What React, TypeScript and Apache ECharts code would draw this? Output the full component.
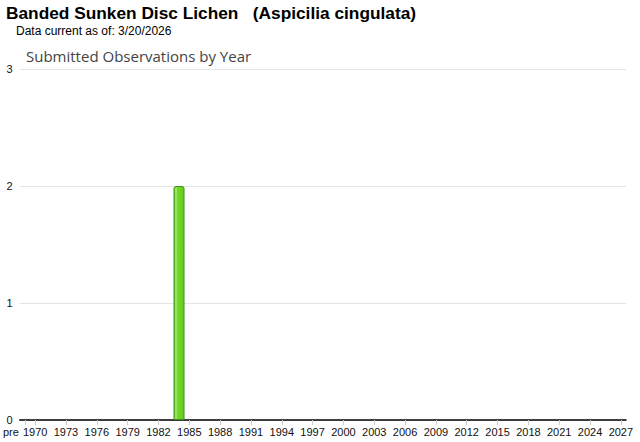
import React, { useEffect, useRef } from "react";
import * as echarts from "echarts";

const firstYear = 1970;
const lastYear = 2027;
const years: string[] = [];
for (let y = firstYear; y <= lastYear; y++) years.push(String(y));
const categories: string[] = ["pre", ...years];
const observedYears: string[] = ["1984"];
const observedCounts: number[] = [2];
const yTicks: number[] = [0, 1, 2, 3];

export default function App() {
  const ref = useRef<HTMLDivElement>(null);
  useEffect(() => {
    document.body.style.margin = "0";
    const chart = echarts.init(ref.current!, null, { renderer: "svg" });
    const values = categories.map((c) => {
      const i = observedYears.indexOf(c);
      return i >= 0 ? observedCounts[i] : "-";
    });
    const showIdx = (idx: number) => idx === 0 || (idx - 1) % 3 === 0;
    const font = "Liberation Sans, Arial, sans-serif";
    chart.setOption({
      animation: false,
      backgroundColor: "#ffffff",
      textStyle: { fontFamily: font },
      title: [
        {
          text: "Banded Sunken Disc Lichen   (Aspicilia cingulata)",
          left: 6,
          top: 4,
          padding: 0,
          textStyle: { fontSize: 17.3, fontWeight: "bold", color: "#000", fontFamily: font },
        },
        {
          text: "Data current as of: 3/20/2026",
          left: 16,
          top: 25,
          padding: 0,
          textStyle: { fontSize: 12, fontWeight: "normal", color: "#000", fontFamily: font },
        },
        {
          text: "Submitted Observations by Year",
          left: 26,
          top: 48,
          padding: 0,
          textStyle: { fontSize: 15, fontWeight: "normal", color: "#444", fontFamily: "Open Sans, sans-serif" },
        },
      ],
      grid: { left: 18, right: 14, top: 69, bottom: 22, containLabel: false },
      xAxis: {
        type: "category",
        data: categories.map((c, i) =>
          i === 0
            ? { value: c, textStyle: { align: "right", padding: [0, 6, 0, 0] } }
            : c
        ),
        boundaryGap: true,
        axisLine: { show: true, lineStyle: { color: "#000", width: 1.5 } },
        axisTick: {
          show: true,
          alignWithLabel: true,
          interval: (idx: number) => showIdx(idx),
          length: 5,
          lineStyle: { color: "#ccc" },
        },
        axisLabel: {
          interval: (idx: number) => showIdx(idx),
          fontSize: 11,
          color: "#111",
          margin: 6,
          fontFamily: font,
        },
        splitLine: { show: false },
      },
      yAxis: {
        type: "value",
        min: yTicks[0],
        max: yTicks[yTicks.length - 1],
        interval: 1,
        axisLine: { show: false },
        axisTick: { show: false },
        axisLabel: { fontSize: 11, color: "#111", margin: 7, fontFamily: font },
        splitLine: { lineStyle: { color: "#e4e4e4", width: 1 } },
      },
      series: [
        {
          type: "bar",
          data: values,
          barWidth: 11,
          itemStyle: {
            borderColor: "#3f8f14",
            borderWidth: 1,
            borderRadius: [2, 2, 0, 0],
            color: new echarts.graphic.LinearGradient(0, 0, 1, 0, [
              { offset: 0, color: "#5cbf1c" },
              { offset: 0.2, color: "#a8f070" },
              { offset: 0.35, color: "#72d628" },
              { offset: 1, color: "#66cc22" },
            ]),
          },
        },
      ],
    });
    return () => chart.dispose();
  }, []);
  return <div ref={ref} style={{ width: 640, height: 442 }} />;
}
